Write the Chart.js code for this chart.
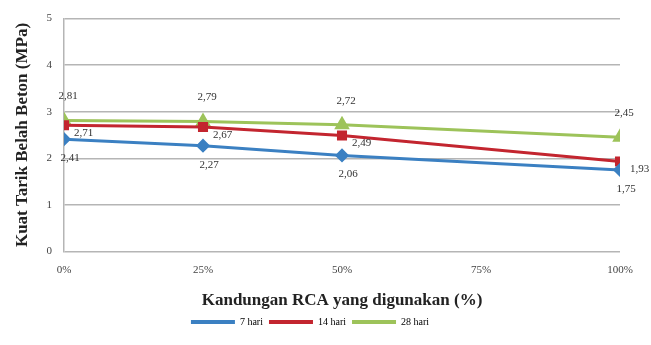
<!DOCTYPE html>
<html>
<head>
<meta charset="utf-8">
<script src="https://cdn.jsdelivr.net/npm/chart.js@4/dist/chart.umd.min.js"></script>
<style>
  html, body { margin: 0; padding: 0; background: #fff; }
  #wrap { width: 651px; height: 345px; position: relative; }
</style>
</head>
<body>
<div id="wrap"><canvas id="c" width="651" height="345"></canvas></div>
<script>
// RCA content (%) on the x axis
const rcaContent = [0, 25, 50, 100];
const xTickLabels = ['0%', '25%', '50%', '75%', '100%'];

// Split tensile strength (MPa) per curing age
const hari7 = [2.41, 2.27, 2.06, 1.75];
const hari14 = [2.71, 2.67, 2.49, 1.93];
const hari28 = [2.81, 2.79, 2.72, 2.45];

const seriesNames = ['7 hari', '14 hari', '28 hari'];

const serif = "'Liberation Serif', 'DejaVu Serif', serif";

function toPoints(vals) {
  return vals.map((v, i) => ({ x: rcaContent[i], y: v }));
}

// value labels: green above, red to the right, blue below
const labelPlugin = {
  id: 'valueLabels',
  afterDatasetsDraw(chart) {
    const ctx = chart.ctx;
    ctx.save();
    ctx.font = '11px ' + serif;
    ctx.fillStyle = '#333';
    ctx.textBaseline = 'middle';
    chart.data.datasets.forEach((ds, di) => {
      const meta = chart.getDatasetMeta(di);
      meta.data.forEach((pt, i) => {
        const txt = ds.data[i].y.toFixed(2).replace('.', ',');
        let x = pt.x, y = pt.y;
        if (di === 0) { ctx.textAlign = 'center'; x += 6; y += 19; }
        else if (di === 1) { ctx.textAlign = 'left'; x += 10; y += 8; }
        else { ctx.textAlign = 'center'; x += 4; y -= 24; }
        ctx.fillText(txt, x, y);
      });
    });
    ctx.restore();
  }
};

new Chart(document.getElementById('c'), {
  type: 'line',
  data: {
    datasets: [
      {
        label: seriesNames[0], data: toPoints(hari7),
        borderColor: '#3B80C2', backgroundColor: '#3B80C2',
        pointStyle: 'rectRot', pointRadius: 5, borderWidth: 3
      },
      {
        label: seriesNames[1], data: toPoints(hari14),
        borderColor: '#C3252F', backgroundColor: '#C3252F',
        pointStyle: 'rect', pointRadius: 5, borderWidth: 3
      },
      {
        label: seriesNames[2], data: toPoints(hari28),
        borderColor: '#9DC35A', backgroundColor: '#9DC35A',
        pointStyle: 'triangle', pointRadius: 6, borderWidth: 3
      }
    ]
  },
  options: {
    responsive: false,
    animation: false,
    layout: { padding: { left: 0, right: 31, top: 18, bottom: 8 } },
    plugins: {
      tooltip: { enabled: false },
      legend: {
        position: 'bottom',
        labels: {
          font: { family: serif, size: 10 },
          color: '#333',
          boxWidth: 44,
          boxHeight: 4,
          padding: 6,
          generateLabels(chart) {
            return chart.data.datasets.map((ds, i) => ({
              text: ds.label,
              fillStyle: ds.borderColor,
              strokeStyle: ds.borderColor,
              lineWidth: 0,
              datasetIndex: i
            }));
          }
        }
      }
    },
    scales: {
      x: {
        type: 'linear',
        min: 0, max: 100,
        afterBuildTicks(scale) {
          scale.ticks = xTickLabels.map((_, i) => ({ value: i * 25 }));
        },
        ticks: {
          font: { family: serif, size: 11 },
          color: '#444',
          padding: 4,
          callback(value) { return xTickLabels[value / 25]; }
        },
        grid: { display: false },
        border: { display: false },
        title: {
          display: true,
          text: 'Kandungan RCA yang digunakan (%)',
          font: { family: serif, size: 17, weight: 'bold' },
          color: '#222',
          padding: { top: 10, bottom: 0 }
        }
      },
      y: {
        min: 0, max: 5,
        ticks: {
          stepSize: 1,
          font: { family: serif, size: 11 },
          color: '#444',
          padding: 12
        },
        grid: { color: '#b5b5b5', lineWidth: 1.5, drawTicks: false },
        border: { display: true, color: '#b5b5b5', width: 1.5 },
        title: {
          display: true,
          text: 'Kuat Tarik Belah Beton (MPa)',
          font: { family: serif, size: 17, weight: 'bold' },
          color: '#222',
          padding: { top: 12, bottom: 4 }
        },
        afterFit(scale) { scale.width = 64; }
      }
    }
  },
  plugins: [labelPlugin]
});
</script>
</body>
</html>
